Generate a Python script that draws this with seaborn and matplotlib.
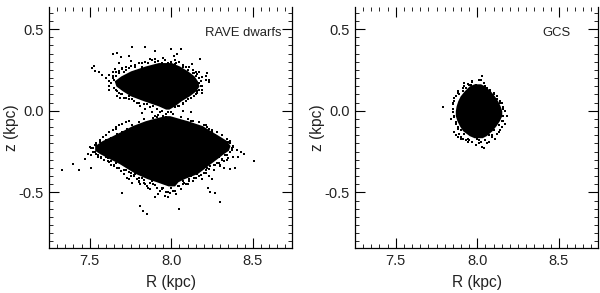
import matplotlib
matplotlib.use("Agg")
import matplotlib.pyplot as plt
import pandas as pd
import seaborn as sns
from matplotlib.ticker import FormatStrFormatter, MultipleLocator

# dense part of each cloud
rave_top_z = [0.295, 0.274, 0.244, 0.213, 0.183, 0.152, 0.122, 0.091, 0.061, 0.030, 0.010]
rave_top_left = [7.92, 7.84, 7.75, 7.69, 7.65, 7.66, 7.70, 7.75, 7.83, 7.92, 7.965]
rave_top_right = [8.00, 8.05, 8.10, 8.14, 8.16, 8.17, 8.15, 8.11, 8.06, 8.02, 7.985]

rave_low_z = [-0.030, -0.05, -0.061, -0.091, -0.122, -0.152, -0.183, -0.213, -0.242, -0.262,
              -0.293, -0.323, -0.354, -0.384, -0.415, -0.435, -0.46]
rave_low_left = [7.96, 7.88, 7.84, 7.76, 7.70, 7.64, 7.575, 7.53, 7.53, 7.56,
                 7.62, 7.68, 7.73, 7.78, 7.85, 7.91, 7.98]
rave_low_right = [7.99, 8.06, 8.10, 8.19, 8.24, 8.29, 8.34, 8.36, 8.35, 8.32,
                  8.28, 8.24, 8.20, 8.16, 8.08, 8.04, 8.02]

gcs_z = [0.165, 0.152, 0.122, 0.091, 0.061, 0.030, 0.0, -0.030, -0.061, -0.091, -0.122, -0.152, -0.165]
gcs_left = [7.98, 7.95, 7.92, 7.895, 7.88, 7.87, 7.865, 7.865, 7.875, 7.89, 7.91, 7.95, 7.98]
gcs_right = [8.02, 8.045, 8.08, 8.105, 8.125, 8.14, 8.15, 8.15, 8.135, 8.115, 8.09, 8.055, 8.03]

# stars outside the dense part
rave_r = [7.76, 7.84, 8.00, 8.06, 7.90, 7.67, 7.64, 8.035, 7.74, 7.69, 8.015, 7.75, 7.87, 8.175,
          7.68, 8.125, 7.525, 7.515, 7.535, 7.555, 7.575, 7.655, 7.615, 7.615, 7.685, 8.22, 8.21,
          8.23, 8.19, 8.16, 7.72, 7.75, 7.78, 7.80, 7.82, 7.84, 7.86, 7.88, 7.90, 7.92, 7.94, 7.96,
          7.98, 8.00, 8.02, 8.05, 8.07, 8.09, 8.11, 8.13, 7.70, 7.68, 7.66, 7.64, 7.62, 7.60, 8.15,
          8.17, 8.19, 8.21, 8.23, 7.63, 7.65, 7.62, 7.66, 7.64, 7.68, 7.67, 7.70, 7.72, 7.74, 7.76,
          7.80, 8.17, 8.18, 8.16, 8.19, 8.15, 8.12, 8.10, 8.14, 8.09, 8.07, 8.05, 7.70, 7.72, 7.83,
          7.81, 7.79, 7.87, 7.84, 7.91, 7.94, 7.99, 7.96, 8.02, 8.00, 7.88, 7.90, 7.93, 7.92, 8.01,
          8.12, 7.98, 8.07, 7.96, 7.97,
          7.33, 7.40, 7.435, 7.51, 7.47, 7.49, 7.81, 7.825, 7.85, 8.045, 8.30, 8.27, 8.24, 8.225,
          7.70, 7.90, 7.98, 7.99, 8.505, 8.445, 8.40, 8.39, 8.36, 8.325, 8.41, 8.37, 8.38, 8.43,
          7.52, 7.54, 7.56, 7.58, 7.60, 7.62, 7.64, 7.66, 7.68, 7.70, 7.55, 7.57, 7.59, 7.61, 7.63,
          7.65, 7.67, 7.69, 7.71, 7.73, 7.72, 7.75, 7.77, 7.74, 7.76, 7.78, 7.80, 7.82, 7.84, 7.86,
          7.88, 7.79, 7.81, 7.83, 7.85, 7.87, 7.89, 7.91, 7.93, 7.95, 7.97, 8.00, 8.02, 8.04, 8.06,
          8.08, 8.10, 7.92, 7.94, 7.96, 7.98, 8.01, 8.03, 8.05, 8.07, 8.09, 8.11, 8.13, 8.15, 8.17,
          8.19, 8.21, 8.23, 8.25, 8.12, 8.14, 8.16, 8.18, 8.20, 8.22, 8.24, 8.26, 8.28, 8.30, 8.32,
          8.34, 8.27, 8.29, 8.31, 8.33, 8.35, 8.36, 8.38, 8.30, 8.33, 8.28, 8.26, 8.21, 8.19,
          7.61, 7.63, 7.59, 7.57, 7.55, 7.53, 7.51, 7.50, 7.54, 7.56, 7.66, 7.68, 7.70, 7.72, 7.74,
          8.31, 8.33, 8.35, 8.37, 8.29, 8.27, 8.25, 8.23, 8.21, 8.30, 8.33, 8.36,
          7.82, 7.88, 7.91, 7.89, 8.00, 8.12, 7.95, 7.97]
rave_z = [0.39, 0.39, 0.38, 0.376, 0.366, 0.356, 0.35, 0.346, 0.335, 0.33, 0.335, 0.305, 0.315, 0.315,
          0.295, 0.285, 0.275, 0.26, 0.245, 0.235, 0.22, 0.255, 0.185, 0.13, 0.075, 0.228, 0.19,
          0.175, 0.13, 0.225, 0.27, 0.275, 0.28, 0.29, 0.27, 0.30, 0.295, 0.31, 0.30, 0.305, 0.29, 0.31,
          0.295, 0.30, 0.285, 0.30, 0.28, 0.27, 0.265, 0.25, 0.255, 0.245, 0.24, 0.235, 0.22, 0.20, 0.24,
          0.235, 0.205, 0.21, 0.19, 0.17, 0.19, 0.15, 0.13, 0.21, 0.11, 0.09, 0.10, 0.08, 0.09, 0.07,
          0.05, 0.17, 0.15, 0.12, 0.11, 0.10, 0.08, 0.07, 0.23, 0.06, 0.04, 0.03, 0.26, 0.25, 0.04,
          0.03, 0.05, 0.02, 0.01, 0.01, 0.0, 0.02, 0.025, 0.02, -0.01, -0.005, -0.03, -0.01, -0.025, -0.02,
          -0.01, -0.005, 0.0, 0.03, -0.02,
          -0.36, -0.327, -0.36, -0.348, -0.293, -0.262, -0.583, -0.614, -0.632, -0.60, -0.56, -0.506, -0.50, -0.475,
          -0.506, -0.527, -0.527, -0.506, -0.307, -0.262, -0.24, -0.348, -0.354, -0.348, -0.283, -0.23, -0.28, -0.255,
          -0.23, -0.20, -0.18, -0.16, -0.15, -0.13, -0.12, -0.10, -0.09, -0.08, -0.27, -0.29, -0.30, -0.31, -0.33,
          -0.34, -0.35, -0.37, -0.39, -0.41, -0.36, -0.38, -0.40, -0.42, -0.44, -0.39, -0.43, -0.41, -0.45, -0.47,
          -0.43, -0.42, -0.45, -0.44, -0.46, -0.48, -0.45, -0.47, -0.49, -0.47, -0.50, -0.47, -0.49, -0.46, -0.48,
          -0.44, -0.45, -0.51, -0.48, -0.52, -0.50, -0.49, -0.51, -0.46, -0.43, -0.45, -0.42, -0.43, -0.41, -0.40,
          -0.42, -0.38, -0.40, -0.42, -0.40, -0.37, -0.39, -0.36, -0.38, -0.35, -0.34, -0.36, -0.32, -0.34, -0.31,
          -0.30, -0.33, -0.28, -0.30, -0.27, -0.29, -0.25, -0.22, -0.33, -0.20, -0.18, -0.16, -0.14, -0.11,
          -0.29, -0.31, -0.26, -0.24, -0.28, -0.25, -0.27, -0.22, -0.21, -0.19, -0.11, -0.09, -0.08, -0.07, -0.06,
          -0.20, -0.21, -0.19, -0.24, -0.17, -0.15, -0.13, -0.11, -0.09, -0.26, -0.27, -0.20,
          -0.015, -0.01, -0.04, -0.045, -0.05, -0.06, -0.035, -0.04]

# stars hugging the edge of the dense part
edge_r = [7.82, 7.78, 7.74, 7.71, 7.68, 7.66, 7.64, 7.63, 7.65, 7.67, 7.69, 7.71, 7.74, 7.77, 7.80, 7.85, 7.89,
          8.03, 8.07, 8.10, 8.13, 8.15, 8.17, 8.18, 8.19, 8.17, 8.16, 8.14, 8.12, 8.09, 8.07, 8.04, 7.90, 7.95, 8.02,
          7.83, 7.80, 7.76, 7.73, 7.70, 7.67, 7.63, 7.60, 7.56, 7.53, 7.51, 7.52, 7.54, 7.57, 7.59, 7.62, 7.65, 7.68,
          7.71, 7.74, 7.77, 7.80, 7.83, 7.87, 7.90, 7.94, 8.07, 8.11, 8.14, 8.18, 8.21, 8.23, 8.26, 8.29, 8.31, 8.34,
          8.37, 8.38, 8.36, 8.34, 8.31, 8.28, 8.25, 8.22, 8.20, 8.17, 8.13, 8.10, 8.06, 8.21, 8.17, 7.75, 7.80, 7.66, 7.60]
edge_z = [0.29, 0.27, 0.26, 0.24, 0.23, 0.21, 0.20, 0.17, 0.14, 0.12, 0.10, 0.08, 0.07, 0.06, 0.05, 0.04, 0.03,
          0.29, 0.27, 0.25, 0.23, 0.21, 0.20, 0.18, 0.15, 0.13, 0.11, 0.09, 0.08, 0.06, 0.05, 0.03, 0.315, 0.32, 0.31,
          -0.05, -0.07, -0.085, -0.11, -0.13, -0.14, -0.165, -0.18, -0.19, -0.21, -0.23, -0.25, -0.265, -0.285, -0.30, -0.315, -0.335, -0.35,
          -0.365, -0.375, -0.395, -0.41, -0.425, -0.44, -0.455, -0.47, -0.45, -0.43, -0.41, -0.395, -0.38, -0.355, -0.335, -0.32, -0.295, -0.27,
          -0.235, -0.215, -0.185, -0.17, -0.15, -0.13, -0.12, -0.10, -0.09, -0.07, -0.065, -0.05, -0.04, -0.36, -0.40, -0.40, -0.435, -0.32, -0.28]

gcs_r = [7.79, 7.86, 7.85, 7.88, 7.87, 7.85, 7.86, 7.84, 7.87, 7.88, 7.86, 7.87, 7.89, 7.88, 7.90, 7.91,
         7.92, 7.94, 7.95, 7.97, 7.99, 8.02, 8.03, 8.04, 8.05, 8.06, 8.08, 8.10, 8.12, 8.14, 8.16, 8.17,
         8.18, 8.16, 8.17, 8.15, 8.14, 8.13, 8.12, 8.15, 8.09, 8.07, 8.05, 8.02, 8.01, 7.99, 7.97, 7.95,
         7.93, 7.91, 7.90, 7.88, 7.92, 7.94, 8.00, 8.04, 8.06, 8.03, 7.96, 8.09, 8.11, 8.01, 7.85, 8.16,
         7.89, 7.91, 7.93, 7.86, 7.85, 7.86, 7.87, 7.88, 7.90, 7.92, 8.05, 8.08, 8.10, 8.12, 8.14, 8.155, 8.16, 8.15, 8.13, 8.10, 8.07, 7.94, 7.97, 8.01]
gcs_star_z = [0.025, 0.08, 0.05, 0.11, 0.09, -0.01, -0.03, -0.05, -0.08, -0.11, -0.13, -0.15, -0.14, -0.16, -0.17, 0.14,
              0.17, 0.165, 0.16, 0.18, 0.16, 0.19, 0.21, 0.17, 0.15, 0.14, 0.13, 0.11, 0.09, 0.06, 0.02, 0.0,
              -0.03, -0.06, -0.08, -0.10, -0.12, -0.13, -0.14, 0.05, -0.16, -0.19, -0.18, -0.19, -0.20, -0.21, -0.19, -0.18,
              -0.18, -0.17, -0.16, 0.12, 0.15, -0.19, -0.17, -0.23, -0.20, -0.22, 0.16, -0.15, -0.17, 0.19, 0.04, 0.01,
              0.10, 0.12, 0.14, 0.06, 0.01, -0.04, -0.07, -0.10, -0.12, -0.14, 0.15, 0.12, 0.10, 0.07, 0.05, 0.02, -0.03, -0.06, -0.09, -0.12, -0.15, -0.17, 0.175, -0.18]

tick_major = 0.5
tick_minor = 0.05
r_limits = (7.25, 8.74)
z_limits = (-0.84, 0.635)


def draw_panel(ax, rows, stars_r, stars_z, label, label_x):
    for z, left, right in rows:
        ax.fill_betweenx(z, left, right, color="black", linewidth=0)
    sns.scatterplot(data=pd.DataFrame({"r": stars_r, "z": stars_z}), x="r", y="z", ax=ax,
                    color="black", marker="s", s=2.2, linewidth=0, legend=False)
    ax.set_xlim(r_limits)
    ax.set_ylim(z_limits)
    ax.xaxis.set_major_locator(MultipleLocator(tick_major))
    ax.xaxis.set_minor_locator(MultipleLocator(tick_minor))
    ax.yaxis.set_major_locator(MultipleLocator(tick_major))
    ax.yaxis.set_minor_locator(MultipleLocator(tick_minor))
    ax.yaxis.set_major_formatter(FormatStrFormatter("%.1f"))
    ax.xaxis.set_major_formatter(FormatStrFormatter("%.1f"))
    ax.tick_params(which="major", direction="in", top=True, right=True, length=7, width=0.8,
                   labelsize=10.5, pad=4, color="black", labelcolor="#222222")
    ax.tick_params(which="minor", direction="in", top=True, right=True, length=3, width=0.7)
    ax.spines["top"].set_visible(False)
    for side in ["left", "right", "bottom"]:
        ax.spines[side].set_linewidth(0.9)
        ax.spines[side].set_color("black")
    ax.set_xlabel("R (kpc)", fontsize=11.2, labelpad=5, color="#222222")
    ax.set_ylabel("z (kpc)", fontsize=11.2, color="#222222")
    ax.yaxis.set_label_coords(-0.125, 0.5)
    ax.text(label_x, 0.893, label, transform=ax.transAxes, ha="right", va="center", fontsize=9.4,
            color="#222222")


sns.set_theme(style="ticks")
plt.rcParams["font.family"] = ["Liberation Sans", "DejaVu Sans"]

fig, axes = plt.subplots(1, 2, figsize=(6, 2.93), dpi=100)
axes[0].set_position([49 / 600, 45 / 293, 243 / 600, 241 / 293])
axes[1].set_position([355 / 600, 45 / 293, 243 / 600, 241 / 293])

draw_panel(axes[0], [(rave_top_z, rave_top_left, rave_top_right), (rave_low_z, rave_low_left, rave_low_right)],
           rave_r + edge_r, rave_z + edge_z, "RAVE dwarfs", 0.955)
draw_panel(axes[1], [(gcs_z, gcs_left, gcs_right)], gcs_r, gcs_star_z, "GCS", 0.885)

fig.savefig("out.png", dpi=100)
